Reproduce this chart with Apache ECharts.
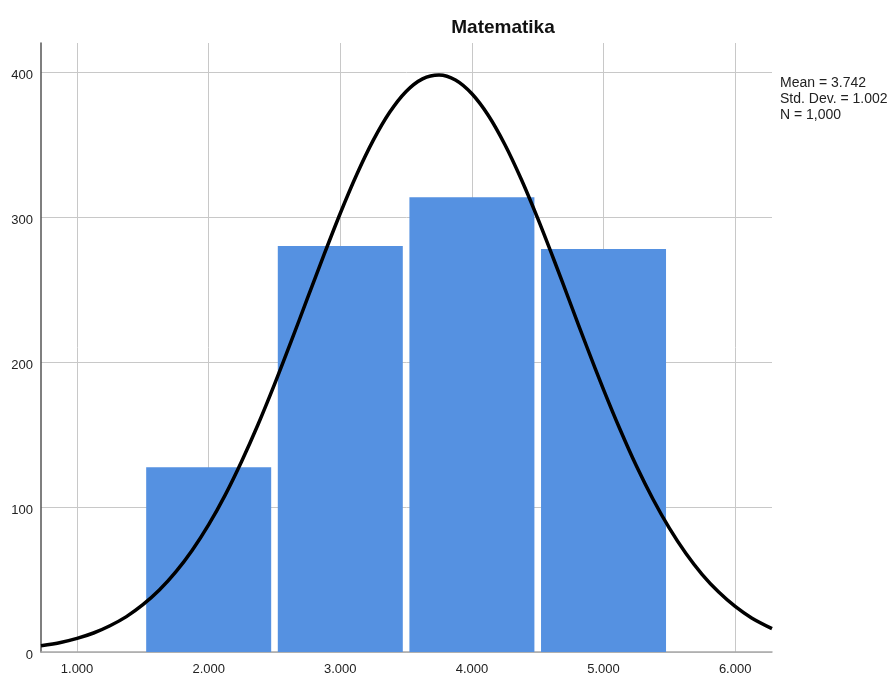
<!DOCTYPE html>
<html>
<head>
<meta charset="utf-8">
<title>Matematika</title>
<script src="https://cdn.jsdelivr.net/npm/echarts@6/dist/echarts.min.js"></script>
<style>
  html, body { margin: 0; padding: 0; background: #fff; }
  #main { width: 893px; height: 680px; }
</style>
</head>
<body>
<div id="main"></div>
<script>
// histogram bins (centre of bin) and counts
var binCenters = [2, 3, 4, 5];
var binCounts = [127.5, 280, 313.7, 278];

// normal curve
var curveX = [0.726, 0.875, 1, 1.125, 1.25, 1.375, 1.5, 1.625, 1.75, 1.875, 2, 2.125, 2.25, 2.375, 2.5, 2.625,
    2.75, 2.875, 3, 3.125, 3.25, 3.375, 3.5, 3.625, 3.75, 3.875, 4, 4.125, 4.25, 4.375, 4.5, 4.625,
    4.75, 4.875, 5, 5.125, 5.25, 5.375, 5.5, 5.625, 5.75, 5.875, 6, 6.125, 6.28];
var curveY = [4.3, 6.6, 9.4, 13.1, 18.1, 24.4, 32.6, 42.7, 55.2, 70.2, 87.8, 108.2, 131.4, 156.9, 184.6, 213.8,
    243.8, 273.7, 302.6, 329.3, 352.8, 372.2, 386.6, 395.3, 398, 394.5, 385, 370, 350, 326, 299, 270,
    240, 210, 181, 153.6, 128.2, 105.5, 85.4, 68.1, 53.4, 41.3, 31.4, 23.5, 16.1];

// tick labels
var xTicks = [1, 2, 3, 4, 5, 6];
var yTicks = [0, 100, 200, 300, 400];

var statsText = ['Mean = 3.742', 'Std. Dev. = 1.002', 'N = 1,000'];

var chart = echarts.init(document.getElementById('main'));

var barData = binCenters.map(function (c, i) { return [c, binCounts[i]]; });
var lineData = curveX.map(function (x, i) { return [x, curveY[i]]; });

var option = {
    backgroundColor: '#fff',
    animation: false,
    title: {
        text: 'Matematika',
        left: 498,
        textAlign: 'center',
        top: 13,
        textStyle: { fontFamily: 'Liberation Sans', fontSize: 19, fontWeight: 'bold', color: '#111' }
    },
    graphic: [{
        type: 'text',
        left: 780,
        top: 75,
        style: {
            text: statsText.join('\n'),
            fontFamily: 'Liberation Sans',
            fontSize: 14,
            lineHeight: 16,
            fill: '#222'
        }
    }],
    grid: { left: 41, right: 121, top: 43, bottom: 28 },
    xAxis: {
        type: 'value',
        min: 0.726,
        max: 6.28,
        axisLine: { show: true, onZero: false, lineStyle: { color: '#a8a8a8', width: 1.5 } },
        axisTick: { show: false, customValues: xTicks },
        axisLabel: {
            customValues: xTicks,
            margin: 11,
            fontFamily: 'Liberation Sans',
            fontSize: 13,
            color: '#222',
            formatter: function (v) { return v.toFixed(3); }
        },
        splitLine: { show: true, lineStyle: { color: '#c8c8c8', width: 1 } }
    },
    yAxis: {
        type: 'value',
        min: 0,
        max: 420,
        axisLine: { show: true, lineStyle: { color: '#555', width: 1.5 } },
        axisTick: { show: false, customValues: yTicks },
        axisLabel: {
            customValues: yTicks,
            margin: 8,
            verticalAlign: 'top',
            lineHeight: 7,
            fontFamily: 'Liberation Sans',
            fontSize: 13,
            color: '#222'
        },
        splitLine: { show: true, lineStyle: { color: '#c8c8c8', width: 1 } }
    },
    series: [{
        type: 'bar',
        data: barData,
        barWidth: 125,
        itemStyle: { color: '#5591E1' },
        z: 2
    }, {
        type: 'line',
        data: lineData,
        smooth: 0.3,
        symbol: 'none',
        lineStyle: { color: '#000', width: 3.5, join: 'round' },
        z: 3
    }]
};

chart.setOption(option);
</script>
</body>
</html>
